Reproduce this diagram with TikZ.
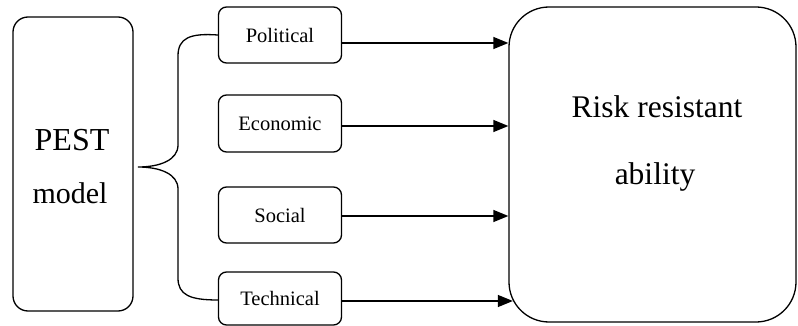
\documentclass[tikz,border=0pt]{standalone}
\usepackage{fontspec}
\setmainfont{Liberation Serif}
\usetikzlibrary{arrows.meta}
\begin{document}
\begin{tikzpicture}[x=1pt,y=-1pt,line width=1.3pt,
  bigbox/.style={draw,rounded corners=15pt,align=center,inner sep=0pt},
  factor/.style={draw,rounded corners=8pt,minimum width=123pt,inner sep=0pt,font=\fontsize{20.5}{24}\selectfont},
  arr/.style={-{Triangle[length=15pt,width=12pt]}}]
\useasboundingbox (0,0) rectangle (798,326);
\node[bigbox,minimum width=120pt,minimum height=294pt] (pest) at (73,164) {};
\node[font=\fontsize{32}{38}\selectfont] (pesttxt) at (72,140) {PEST};
\node[font=\fontsize{30}{36}\selectfont] (modeltxt) at (70,193) {model};
\node[factor,minimum height=56pt] (pol) at (280,35) {Political};
\node[factor,minimum height=57pt] (eco) at (280,123.5) {Economic};
\node[factor,minimum height=56pt] (soc) at (280,215) {Social};
\node[factor,minimum height=53pt] (tec) at (280,298.5) {Technical};
\node[bigbox,rounded corners=40pt,minimum width=287pt,minimum height=315pt] (risk) at (652.5,164.5) {};
\node[font=\fontsize{31.5}{36}\selectfont] (risktxt) at (657,107) {Risk resistant};
\node[font=\fontsize{31.5}{36}\selectfont] (abtxt) at (655,177) {ability};
\coordinate (tip) at (138,167);
\draw (pol.west) .. controls (190,33) and (178,38) .. (178,56) -- (178,145)
  .. controls (178,160) and (160,167) .. (tip)
  .. controls (160,167) and (178,174) .. (178,189) -- (178,278)
  .. controls (178,295) and (190,300) .. ([yshift=-1.5pt]tec.west);
\draw[arr] ([yshift=-8pt]pol.east) -- ([yshift=-8pt]pol.east -| risk.west);
\draw[arr] ([yshift=-2.5pt]eco.east) -- ([yshift=-2.5pt]eco.east -| risk.west);
\draw[arr] ([yshift=-1pt]soc.east) -- ([yshift=-1pt]soc.east -| risk.west);
\draw[arr] ([yshift=-2.5pt]tec.east) -- ([yshift=-2.5pt,xshift=4.5pt]tec.east -| risk.west);
\end{tikzpicture}
\end{document}
